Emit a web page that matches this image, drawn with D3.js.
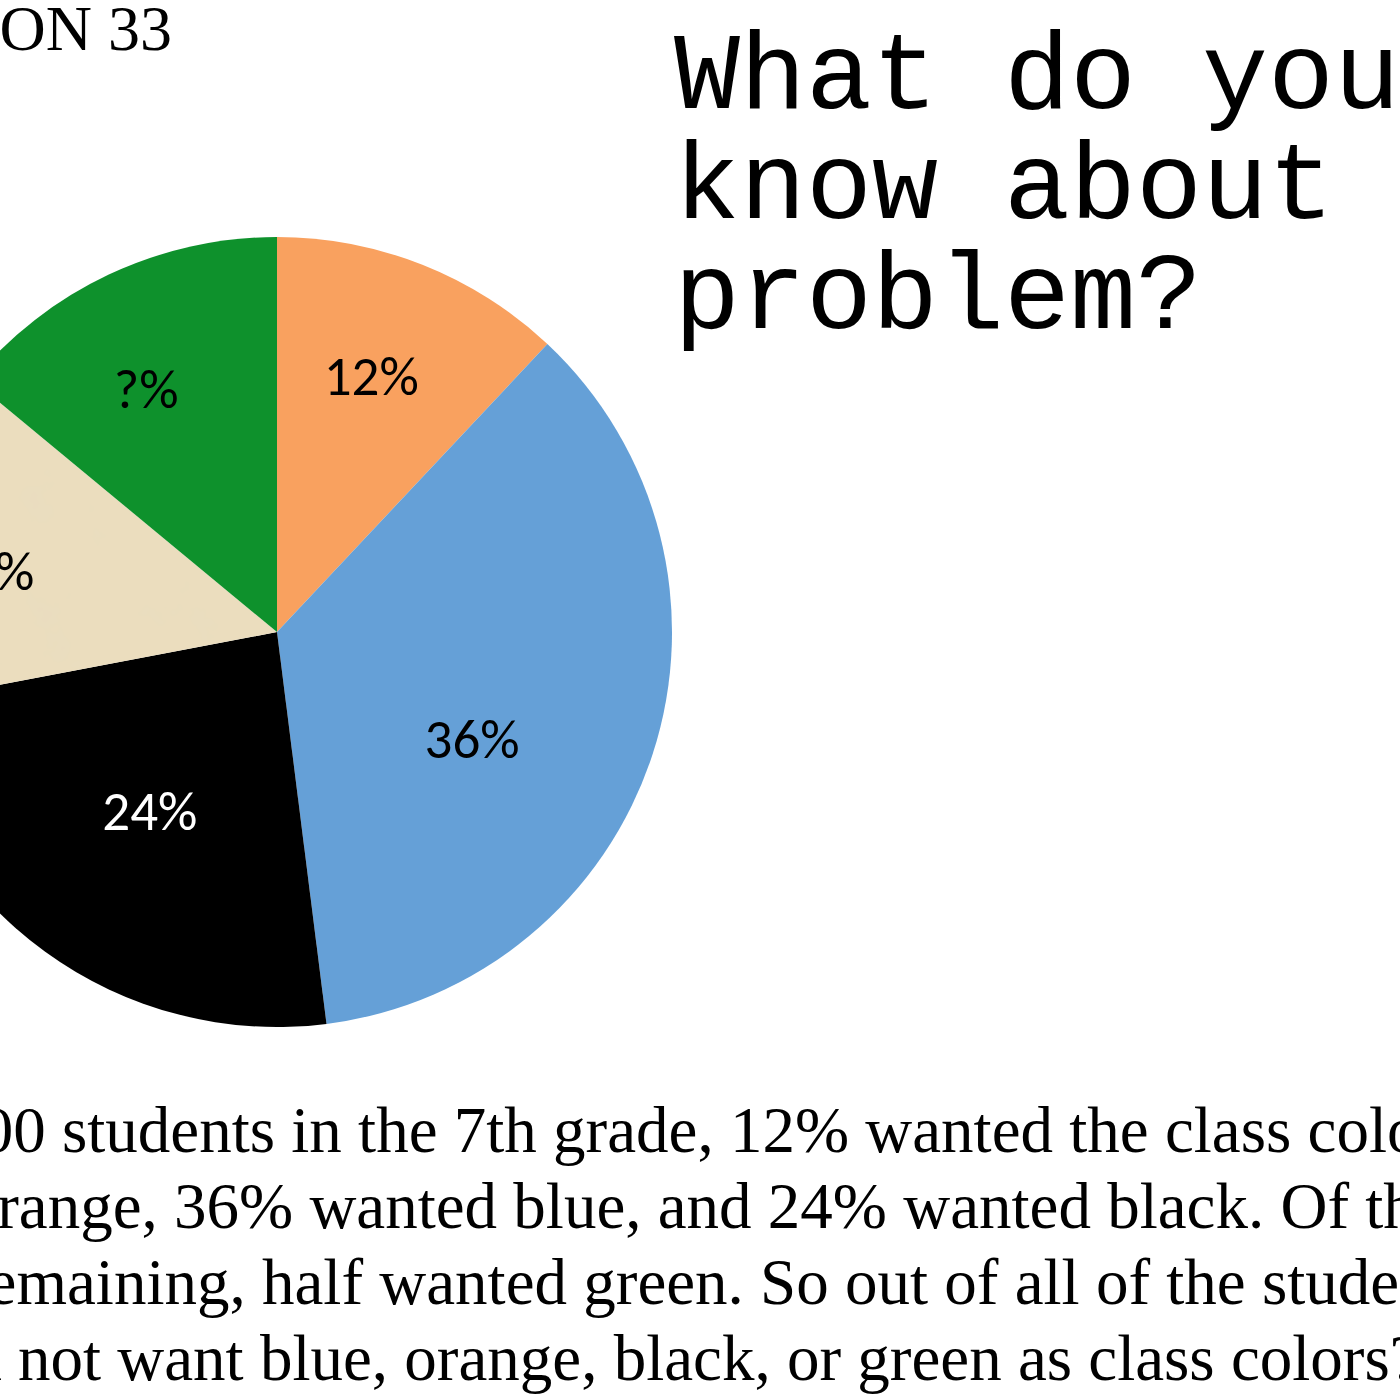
<!DOCTYPE html>
<html>
<head>
<meta charset="utf-8">
<script src="https://cdn.jsdelivr.net/npm/d3@7"></script>
<style>
  html, body { margin: 0; padding: 0; background: #fff; overflow: hidden; }
</style>
</head>
<body>
<div id="chart"></div>
<script>
// Data
const categories = ['Orange', 'Blue', 'Black', 'Other', 'Green']
const percents = [12, 36, 24, 14, 14]
const sliceLabels = ['12%', '36%', '24%', '?%', '?%']

const headerText = 'LESSON 33'
const titleLines = ['What do you', 'know about this', 'problem?']
const problemLines = [
  'Of the 200 students in the 7th grade, 12% wanted the class colors to be',
  'orange, 36% wanted blue, and 24% wanted black. Of the',
  'remaining, half wanted green. So out of all of the students, what percent',
  'did not want blue, orange, black, or green as class colors?'
]

function draw() {
  // Dimensions
  const dimensions = {
    width: 1400,
    height: 1400,
    cx: 277,
    cy: 632,
    radius: 395,
  }

  const colors = d3.scaleOrdinal()
    .domain(categories)
    .range(['#F9A15F', '#65A0D7', '#000000', '#EBDDBE', '#0E912C'])

  const labelColors = d3.scaleOrdinal()
    .domain(categories)
    .range(['#000', '#000', '#fff', '#000', '#000'])

  // label placement (radius, angle nudge in degrees) per slice
  const labelLayout = {
    Orange: [274, -1.5],
    Blue: [222, 10.5],
    Black: [219, -0.5],
    Other: [282, -1.7],
    Green: [277, -3],
  }

  const svg = d3.select('#chart')
    .append('svg')
    .attr('width', dimensions.width)
    .attr('height', dimensions.height)

  // parchment texture for the unknown slice
  const defs = svg.append('defs')
  const filter = defs.append('filter')
    .attr('id', 'parchment')
  filter.append('feTurbulence')
    .attr('type', 'fractalNoise')
    .attr('baseFrequency', 0.02)
    .attr('numOctaves', 4)
    .attr('seed', 7)
    .attr('result', 'noise')
  filter.append('feColorMatrix')
    .attr('in', 'noise')
    .attr('type', 'matrix')
    .attr('values', '0 0 0 0 0.80  0 0 0 0 0.71  0 0 0 0 0.54  0.7 0 0 0 -0.30')
    .attr('result', 'tint')
  filter.append('feComposite')
    .attr('in', 'tint')
    .attr('in2', 'SourceGraphic')
    .attr('operator', 'atop')

  // Pie
  const pieData = d3.pie()
    .sort(null)
    .value(d => d.value)(categories.map((c, i) => ({ key: c, value: percents[i], label: sliceLabels[i] })))

  const arc = d3.arc()
    .innerRadius(0)
    .outerRadius(dimensions.radius)

  const ctr = svg.append('g')
    .attr('transform', `translate(${dimensions.cx}, ${dimensions.cy})`)

  ctr.selectAll('path')
    .data(pieData)
    .join('path')
    .attr('d', arc)
    .attr('fill', d => colors(d.data.key))
    .attr('filter', d => d.data.key === 'Other' ? 'url(#parchment)' : null)

  ctr.selectAll('text')
    .data(pieData)
    .join('text')
    .attr('transform', d => {
      const [r, nudge] = labelLayout[d.data.key]
      const a = (d.startAngle + d.endAngle) / 2 + nudge * Math.PI / 180
      return `translate(${r * Math.sin(a)}, ${-r * Math.cos(a)})`
    })
    .attr('text-anchor', 'middle')
    .attr('dy', '0.36em')
    .attr('font-family', 'Carlito, Lato, "Open Sans", sans-serif')
    .attr('font-size', 55)
    .attr('fill', d => labelColors(d.data.key))
    .text(d => d.data.label)

  // Header
  svg.append('text')
    .attr('x', 172)
    .attr('y', 50)
    .attr('text-anchor', 'end')
    .attr('font-family', '"Liberation Serif", "Times New Roman", serif')
    .attr('font-size', 64)
    .attr('fill', '#000')
    .text(headerText)

  // Title
  svg.append('g')
    .selectAll('text')
    .data(titleLines)
    .join('text')
    .attr('x', 674)
    .attr('y', (d, i) => 108 + i * 110)
    .attr('font-family', '"Courier New", Courier, "Liberation Mono", monospace')
    .attr('font-size', 110)
    .attr('fill', '#000')
    .attr('xml:space', 'preserve')
    .text(d => d)

  // Problem text, lines aligned on a visible word
  const anchors = [['students', 62], ['36%', 174], ['half', 262], ['not', 18]]
  const problem = svg.append('g')
    .selectAll('text')
    .data(problemLines)
    .join('text')
    .attr('x', 0)
    .attr('y', (d, i) => 1152 + i * 76)
    .attr('font-family', '"Liberation Serif", "Times New Roman", serif')
    .attr('font-size', 65)
    .attr('fill', '#000')
    .text(d => d)

  problem.each(function (d, i) {
    const [word, xPos] = anchors[i]
    const idx = d.indexOf(word)
    const prefix = idx > 0 ? this.getSubStringLength(0, idx) : 0
    d3.select(this).attr('x', xPos - prefix)
  })
}

draw()
</script>
</body>
</html>
